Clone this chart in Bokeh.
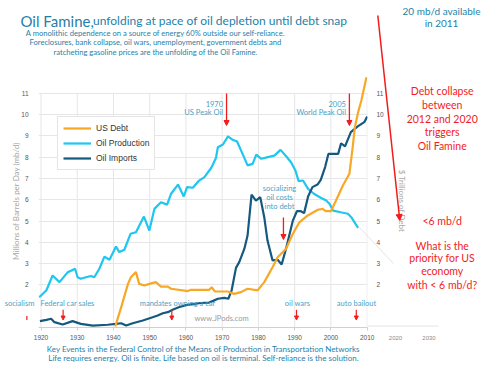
from bokeh.plotting import figure
from bokeh.models import (ColumnDataSource, LinearAxis, Range1d, FixedTicker, Label,
                          Arrow, NormalHead, Legend, LegendItem)
from bokeh.embed import file_html
from bokeh.resources import INLINE

# ---------------- data ----------------
prod_years = [1919.5, 1921.5, 1923.2, 1925.1, 1927.4, 1928.3, 1929.4, 1930.1, 1931.0, 1932.4,
              1933.8, 1934.7, 1936.1, 1937.5, 1938.9, 1940.7, 1941.6, 1943.0, 1944.7, 1946.2,
              1948.4, 1949.9, 1951.3, 1953.1, 1954.8, 1955.9, 1957.8, 1959.4, 1960.3, 1961.9,
              1963.5, 1965.1, 1967.0, 1968.3, 1968.8, 1970.2, 1971.6, 1972.9, 1974.1, 1975.5,
              1977.0, 1978.4, 1979.4, 1980.8, 1982.6, 1984.4, 1986.1, 1987.7, 1989.0, 1990.2,
              1991.1, 1992.3, 1993.7, 1995.3, 1997.2, 1998.7, 1999.6, 2000.6, 2002.7, 2004.7,
              2005.6, 2007.5]
prod_values = [1.42, 1.75, 2.44, 2.13, 2.60, 2.66, 2.76, 2.36, 2.29, 2.36,
               2.42, 2.36, 2.76, 3.33, 3.18, 3.80, 3.54, 3.65, 4.40, 4.47,
               5.21, 4.55, 5.57, 5.88, 5.77, 6.28, 6.71, 6.15, 6.59, 6.56,
               6.88, 7.06, 7.50, 7.97, 8.46, 8.59, 8.97, 8.81, 8.73, 8.20,
               7.61, 7.68, 8.12, 7.92, 8.00, 8.07, 8.34, 8.03, 7.76, 7.37,
               6.87, 6.90, 6.51, 6.28, 6.09, 5.96, 5.81, 5.49, 5.41, 5.34,
               5.18, 4.68]

imp_years = [1919.7, 1921.5, 1922.8, 1923.7, 1926.0, 1928.7, 1931.0, 1934.3, 1938.4, 1940.7,
             1942.1, 1943.5, 1945.3, 1948.1, 1950.8, 1952.2, 1953.6, 1955.0, 1956.3, 1958.0,
             1960.0, 1962.0, 1964.0, 1966.4, 1967.5, 1968.8, 1970.6, 1971.7, 1972.6, 1973.8,
             1974.7, 1976.1, 1977.0, 1978.1, 1979.3, 1980.5, 1981.6, 1982.5, 1983.9, 1985.3,
             1986.4, 1987.6, 1988.5, 1989.5, 1990.6, 1991.7, 1992.6, 1993.7, 1994.9, 1996.3,
             1997.2, 1998.4, 1999.3, 2000.9, 2002.0, 2002.8, 2003.9, 2005.5, 2007.4, 2009.2,
             2010.0]
imp_values = [0.30, 0.36, 0.41, 0.25, 0.14, 0.30, 0.17, 0.09, 0.13, 0.17,
              0.20, 0.09, 0.20, 0.33, 0.48, 0.56, 0.67, 0.72, 0.83, 0.95,
              1.05, 1.10, 1.15, 1.17, 1.25, 1.35, 1.39, 1.35, 1.74, 2.80,
              3.07, 3.69, 4.32, 6.24, 5.96, 6.12, 5.18, 4.08, 3.15, 3.18,
              2.96, 3.69, 4.32, 5.02, 5.46, 5.46, 5.37, 6.15, 6.59, 6.71,
              6.93, 7.53, 8.15, 8.15, 8.15, 8.65, 8.50, 9.17, 9.44, 9.64,
              9.90]

debt_years = [1940.5, 1942.3, 1944.0, 1944.8, 1946.2, 1947.1, 1948.5, 1949.9, 1951.7, 1953.1,
              1955.0, 1955.9, 1960.5, 1961.4, 1966.4, 1967.1, 1968.0, 1971.5, 1973.3, 1975.2,
              1977.0, 1979.8, 1981.6, 1983.9, 1985.3, 1987.6, 1989.5, 1991.3, 1993.6, 1996.4,
              1997.7, 1998.6, 2000.0, 2001.4, 2003.3, 2005.1, 2006.0, 2006.6, 2007.5, 2008.4,
              2009.8]
debt_values = [0.05, 1.05, 2.05, 2.36, 2.60, 2.05, 1.97, 2.05, 2.13, 1.92,
               1.92, 1.82, 1.71, 1.77, 1.77, 1.89, 1.69, 1.69, 1.58, 1.66,
               1.82, 1.74, 2.13, 2.83, 3.30, 3.69, 4.40, 4.94, 5.26, 5.53,
               5.57, 5.46, 5.46, 5.96, 6.67, 7.22, 8.46, 9.40, 10.10, 10.66,
               11.75]

x_ticks = [1920, 1930, 1940, 1950, 1960, 1970, 1980, 1990, 2000, 2010]
y_ticks = [2, 3, 4, 5, 6, 7, 8, 9, 10, 11]
extra_x_tick_labels = ["2020", "2030"]

event_years = [1916.1, 1926.1, 1956.1, 1990.5, 2007.0]
event_labels = ["socialism", "Federal car sales", "mandates owning a car", "oil wars", "auto bailout"]
peak_years = [1971.2, 2005.1]
peak_labels = [("1970", "US Peak Oil"), ("2005", "World Peak Oil")]
debt_event_year = 1986.9

# ---------------- layout constants ----------------
W, H = 474, 362
OX, OY = 0, 0                              # page offset of the chart canvas
OVX, OVY = 0, 0                            # page offset of the overlay canvas
OVW = 488
FL, FR, FT, FB = 38, 107, 74, 35           # borders around the frame
PX_YR = 3.624
PX_UNIT = 21.3
X_START = 1919.31
X_END = X_START + (W - FL - FR) / PX_YR
Y_END = (H - FT - FB) / PX_UNIT


def X(xr):   # page pixel -> data x of the chart
    return X_START + (xr - OX - FL) / PX_YR


def Y(yr):   # page pixel -> data y of the chart
    return (H - FB + OY - yr) / PX_UNIT


ORANGE = "#F9A825"
CYAN = "#1EC6F0"
NAVY = "#15597F"
TEAL = "#1F7FA8"
TEAL_L = "#4AA2C4"
RED = "#F21C1C"
GILL = "Lato"

p = figure(width=W, height=H, output_backend="svg", toolbar_location=None,
           x_range=Range1d(X_START, X_END), y_range=Range1d(0, Y_END),
           min_border_left=FL, min_border_right=FR, min_border_top=FT, min_border_bottom=FB)
p.outline_line_color = None
p.background_fill_color = "white"
p.border_fill_color = "white"

# grid
p.xgrid.visible = False
p.ygrid.ticker = FixedTicker(ticks=y_ticks)
p.ygrid.grid_line_color = "#e6e6e6"
p.segment(x0=x_ticks, x1=x_ticks, y0=[0] * len(x_ticks), y1=[max(y_ticks)] * len(x_ticks),
          line_color="#e6e6e6", line_width=1)

# axes
p.xaxis.ticker = FixedTicker(ticks=x_ticks)
p.xaxis.axis_line_color = "#d0d0d0"
p.xaxis.major_tick_line_color = "#d0d0d0"
p.xaxis.major_tick_out = 3
p.xaxis.major_tick_in = 0
p.xaxis.minor_tick_line_color = None
p.xaxis.major_label_standoff = 4
p.xaxis.major_label_text_font = "Liberation Sans"
p.xaxis.major_label_text_font_size = "6.5px"
p.xaxis.major_label_text_color = "#555555"

p.yaxis.ticker = FixedTicker(ticks=y_ticks)
p.yaxis.axis_line_color = None
p.yaxis.major_tick_line_color = None
p.yaxis.minor_tick_line_color = None
p.yaxis.major_label_standoff = 4
p.yaxis.major_label_text_font = "Liberation Sans"
p.yaxis.major_label_text_font_size = "6.5px"
p.yaxis.major_label_text_color = "#555555"
p.yaxis.axis_label = "Millions of Barrels per Day (mb/d)"
p.yaxis.axis_label_text_font = GILL
p.yaxis.axis_label_text_font_style = "normal"
p.yaxis.axis_label_text_font_size = "8px"
p.yaxis.axis_label_text_color = "#a8a8a8"
p.yaxis.axis_label_standoff = -3

p.extra_y_ranges = {"debt": Range1d(0, Y_END)}
ax2 = LinearAxis(y_range_name="debt", ticker=FixedTicker(ticks=y_ticks),
                 axis_label="$ Trillions of Debt")
ax2.axis_line_color = None
ax2.major_tick_line_color = None
ax2.minor_tick_line_color = None
ax2.major_label_standoff = 3
ax2.major_label_text_font = "Liberation Sans"
ax2.major_label_text_font_size = "6.5px"
ax2.major_label_text_color = "#555555"
ax2.axis_label_text_font = GILL
ax2.axis_label_text_font_style = "normal"
ax2.axis_label_text_font_size = "8px"
ax2.axis_label_text_color = "#a8a8a8"
ax2.axis_label_standoff = 10
p.add_layout(ax2, "right")

# series
src_p = ColumnDataSource(dict(x=prod_years, y=prod_values))
src_i = ColumnDataSource(dict(x=imp_years, y=imp_values))
src_d = ColumnDataSource(dict(x=debt_years, y=debt_values))
r_prod = p.line("x", "y", source=src_p, line_color=CYAN, line_width=2.2)
r_imp = p.line("x", "y", source=src_i, line_color=NAVY, line_width=2.2)
r_debt = p.line("x", "y", source=src_d, line_color=ORANGE, line_width=2.2, y_range_name="debt")

legend = Legend(items=[LegendItem(label="US Debt", renderers=[r_debt]),
                       LegendItem(label="Oil Production", renderers=[r_prod]),
                       LegendItem(label="Oil Imports", renderers=[r_imp])],
                location=(19, 157))
legend.border_line_color = "#cccccc"
legend.background_fill_color = "white"
legend.background_fill_alpha = 1
legend.label_text_font = "Liberation Sans"
legend.label_text_font_size = "8.5px"
legend.label_text_color = "#333333"
legend.glyph_width = 28
legend.glyph_height = 12
legend.label_height = 12
legend.spacing = 3
legend.padding = 5
legend.margin = 0
legend.label_standoff = 5
p.add_layout(legend)


def lab(fig, text, x, y, size, color, align="center", font=GILL, baseline="middle"):
    fig.add_layout(Label(x=x, y=y, text=text, text_font=font, text_font_size=size,
                         text_color=color, text_align=align, text_baseline=baseline))


def arrow(fig, x0, y0, x1, y1, color=RED, width=1.3, head=5):
    fig.add_layout(Arrow(x_start=x0, y_start=y0, x_end=x1, y_end=y1,
                         line_color=color, line_width=width,
                         end=NormalHead(size=head, fill_color=color, line_color=color, line_width=1)))


# in-chart annotations (chart coordinates)
for yr, (l1, l2) in zip(peak_years, peak_labels):
    xr = X(OX + FL + (yr - X_START) * PX_YR - 3.5)
    lab(p, l1, xr, Y(103.3), "7.5px", TEAL_L, "right")
    lab(p, l2, xr, Y(112.3), "7.5px", TEAL_L, "right")
    arrow(p, yr, Y(93), yr, Y(125))
lab(p, "socializing", X(279), Y(187.7), "7.5px", TEAL_L)
lab(p, "oil costs", X(279), Y(196.7), "7.5px", TEAL_L)
lab(p, "into debt", X(279), Y(205.7), "7.5px", TEAL_L)
arrow(p, debt_event_year, Y(217), debt_event_year, Y(239))

for yr in event_years:
    arrow(p, yr, Y(309.3), yr, Y(319.5), width=1.2, head=4)

lab(p, "www.JPods.com", X(221), Y(318.3), "7.5px", "#9a9a9a")

# ---------------- overlay figure (stacked on top) for texts outside the frame ----------------
ov = figure(width=OVW, height=H, output_backend="svg", toolbar_location=None,
            x_range=Range1d(0, OVW), y_range=Range1d(H, 0),
            x_axis_location=None, y_axis_location=None, min_border=0)
ov.grid.visible = False
ov.outline_line_color = None
ov.background_fill_alpha = 0
ov.border_fill_alpha = 0
ov.styles = {"margin-top": f"-{H}px"}


def o(xr, yr):
    return xr - OVX, yr - OVY


def olab(text, xr, yr, size, color, align="center", font=GILL, baseline="middle"):
    x, y = o(xr, yr)
    lab(ov, text, x, y, size, color, align, font, baseline)


olab("Oil Famine,", 20, 20, "15px", TEAL, "left", baseline="alphabetic")
olab("unfolding at pace of oil depletion until debt snap", 92.5, 20, "12px", TEAL, "left",
     baseline="alphabetic")
olab("A monolithic dependence on a source of energy 60% outside our self-reliance.", 155, 32.3,
     "7.6px", TEAL)
olab("Foreclosures, bank collapse, oil wars, unemployment, government debts and", 155, 41.7,
     "7.6px", TEAL)
olab("ratcheting gasoline prices are the unfolding of the Oil Famine.", 155, 51, "7.6px", TEAL)

olab("20 mb/d available", 441, 10.5, "10px", TEAL)
olab("in 2011", 441, 22.7, "10px", TEAL)
for t, yy in zip(["Debt collapse", "between", "2012 and 2020", "triggers", "Oil Famine"],
                 [90.7, 104.5, 118.3, 131.7, 145]):
    olab(t, 441.7, yy, "10.5px", RED)
olab("<6 mb/d", 441.7, 220.7, "10.5px", RED)
for t, yy in zip(["What is the", "priority for US", "economy", "with < 6 mb/d?"],
                 [245, 257.5, 270.7, 284]):
    olab(t, 441.7, yy, "10.5px", RED)
x0, y0 = o(377.3, 15)
x1, y1 = o(399.3, 220)
arrow(ov, x0, y0, x1, y1, width=1.5, head=6)

# faint extension of the chart past 2010
ov.line(x=[o(359, 0)[0], o(393, 0)[0]], y=[227, 263], line_color="#e4e4e4", line_width=1)
ov.line(x=[o(367, 0)[0], o(438, 0)[0]], y=[325.5, 325.5], line_color="#e4e4e4", line_width=1)

# event texts along the bottom
event_text_x = [19, 67, 177, 297, 356]
for t, tx in zip(event_labels, event_text_x):
    olab(t, tx, 302.7, "7.5px", TEAL_L)

# extra tick labels beyond 2010
for t, xx in zip(extra_x_tick_labels, [395, 428.5]):
    olab(t, xx, 337.5, "6px", "#8a8a8a", font="Liberation Sans")

# footer
olab("Key Events in the Federal Control of the Means of Production in Transportation Networks",
     203, 348.3, "8px", TEAL)
olab("Life requires energy. Oil is finite. Life based on oil is terminal. Self-reliance is the solution.",
     203, 357.6, "8px", TEAL)

open("out.html", "w").write(file_html([p, ov], INLINE))
